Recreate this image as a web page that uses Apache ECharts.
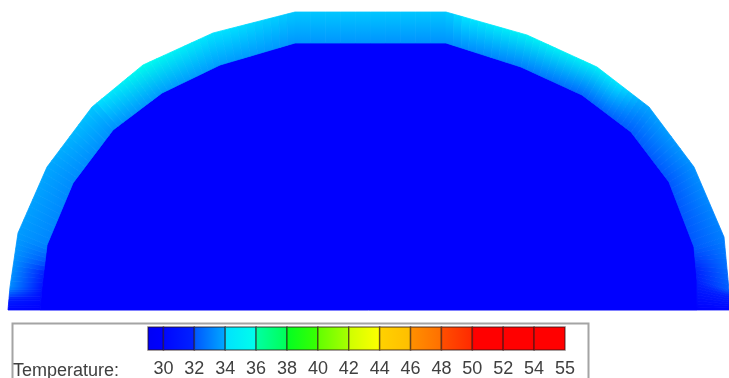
<!DOCTYPE html>
<html><head><meta charset="utf-8">
<script src="https://cdn.jsdelivr.net/npm/echarts@6/dist/echarts.min.js"></script>
<style>html,body{margin:0;padding:0;background:#fff}#c{width:729px;height:378px}</style>
</head><body><div id="c"></div>
<script>
// ---- Geometry of the dome section (x across, y height above base) ----
const outerX = [8, 10, 18, 47, 92, 143, 213, 295, 446, 527, 597, 649, 694, 724, 729, 729];
const outerY = [0, 23, 77, 143, 203, 245, 277, 298, 298, 275, 243, 203, 143, 73, 20, 0];
const outerT = [30.2, 33.2, 33.5, 33.7, 34.0, 35.6, 34.3, 34.0, 34.0, 35.0, 34.8, 33.6, 33.3, 33.0, 32.4, 30.2];
const innerX = [40, 42, 47, 73, 113, 162, 220, 295, 446, 521, 582, 631, 669, 694, 697, 697];
const innerY = [0, 23, 65, 127, 180, 217, 245, 267, 267, 243, 215, 178, 128, 63, 30, 0];
const innerT = [30.0, 31.0, 33.1, 33.2, 33.3, 33.5, 33.5, 33.4, 33.3, 33.0, 32.6, 32.4, 32.3, 32.3, 31.5, 30.0];
const coreT = 30;

// ---- Colour scale legend ----
const tickValues = [30, 32, 34, 36, 38, 40, 42, 44, 46, 48, 50, 52, 54, 55];
const tickLabels = ['30', '32', '34', '36', '38', '40', '42', '44', '46', '48', '50', '52', '54', '55'];
const underT = 29;
const legendTitle = 'Temperature:';

// ---- Colormap (style) ----
const cmapT = [29, 30, 31.75, 32.25, 33.75, 34.25, 35.75, 36.25, 37.75, 38.25, 39.75, 40.25, 41.75, 42.25, 43.75, 44.25, 45.75, 46.25, 47.75, 48.25, 49.75, 50, 55];
const cmapC = [[0,0,245],[0,0,255],[0,35,255],[0,85,255],[0,170,255],[0,225,255],[0,255,235],[0,255,165],[0,255,85],[0,255,35],[60,255,0],[95,255,0],[170,255,0],[205,255,0],[255,255,0],[255,210,0],[255,190,0],[255,145,0],[255,110,0],[255,80,0],[255,40,0],[255,0,0],[255,0,0]];
function cmap(t) {
  if (t <= cmapT[0]) return 'rgb(' + cmapC[0].join(',') + ')';
  for (let i = 1; i < cmapT.length; i++) {
    if (t <= cmapT[i]) {
      const f = (t - cmapT[i-1]) / (cmapT[i] - cmapT[i-1]);
      const c = cmapC[i-1].map((v, k) => Math.round(v + (cmapC[i][k] - v) * f));
      return 'rgb(' + c.join(',') + ')';
    }
  }
  return 'rgb(' + cmapC[cmapC.length-1].join(',') + ')';
}

const chart = echarts.init(document.getElementById('c'), null, {renderer: 'canvas'});

const bandData = outerX.slice(0, -1).map((_, i) => [outerX[i], outerY[i]]);
const cellData = tickValues.map((_, i) => [i]);
const SUB = 10; // shading subdivisions per element edge (rendering only)

function renderBand(params, api) {
  const i = params.dataIndex;
  const lerp = (a, b, f) => a + (b - a) * f;
  const children = [];
  for (let s = 0; s < SUB; s++) {
    const f0 = s / SUB, f1 = (s + 1) / SUB, fm = (s + 0.5) / SUB;
    const o1 = api.coord([lerp(outerX[i], outerX[i+1], f0), lerp(outerY[i], outerY[i+1], f0)]);
    const o2 = api.coord([lerp(outerX[i], outerX[i+1], f1), lerp(outerY[i], outerY[i+1], f1)]);
    const i1 = api.coord([lerp(innerX[i], innerX[i+1], f0), lerp(innerY[i], innerY[i+1], f0)]);
    const i2 = api.coord([lerp(innerX[i], innerX[i+1], f1), lerp(innerY[i], innerY[i+1], f1)]);
    const mo = [(o1[0]+o2[0])/2, (o1[1]+o2[1])/2];
    const mi = [(i1[0]+i2[0])/2, (i1[1]+i2[1])/2];
    const cOut = cmap(lerp(outerT[i], outerT[i+1], fm));
    const cIn = cmap(lerp(innerT[i], innerT[i+1], fm));
    const mk = () => new echarts.graphic.LinearGradient(mo[0], mo[1], mi[0], mi[1], [
      {offset: 0, color: cOut}, {offset: 1, color: cIn}], true);
    children.push({
      type: 'polygon',
      shape: {points: [o1, o2, i2, i1]},
      style: {fill: mk(), stroke: mk(), lineWidth: 0.8}
    });
  }
  return {type: 'group', children: children};
}

function renderCore(params, api) {
  const pts = innerX.map((x, i) => api.coord([x, innerY[i]]));
  return {type: 'polygon', shape: {points: pts}, style: {fill: cmap(coreT), stroke: cmap(coreT), lineWidth: 1}};
}

function renderCell(params, api) {
  const i = params.dataIndex;
  const lo = i === 0 ? underT : tickValues[i-1];
  const hi = tickValues[i];
  const xa = i === 0 ? -0.5 : i - 1;
  const xb = i;
  const p0 = api.coord([xa, 1]);
  const p1 = api.coord([xb, 0]);
  const w = p1[0] - p0[0], h = p1[1] - p0[1];
  const margin = i === 0 ? 0 : 0.25;
  return {
    type: 'rect',
    shape: {x: p0[0], y: p0[1], width: w, height: h},
    style: {
      fill: new echarts.graphic.LinearGradient(0, 0, 1, 0, [
        {offset: 0, color: cmap(lo + margin)}, {offset: 1, color: cmap(hi - margin)}]),
      stroke: 'rgba(40,20,20,0.55)', lineWidth: 1.5
    }
  };
}

const labelIdx = tickLabels.map((_, i) => i);

chart.setOption({
  animation: false,
  backgroundColor: '#ffffff',
  title: {
    text: legendTitle, left: 13, top: 362, padding: 0,
    textStyle: {fontFamily: 'Liberation Sans', fontSize: 18, fontWeight: 'normal', color: '#404040'}
  },
  grid: [
    {left: 0, right: 0, top: 0, bottom: 68},
    {left: 148, top: 327, width: 417, height: 26}
  ],
  xAxis: [
    {type: 'value', gridIndex: 0, min: 0, max: 729, show: false},
    {type: 'value', gridIndex: 1, min: -0.5, max: 13,
     axisLine: {show: false}, axisTick: {show: false}, splitLine: {show: false},
     axisLabel: {customValues: labelIdx, formatter: v => tickLabels[Math.round(v)] || '',
       margin: 10, fontFamily: 'Liberation Sans', fontSize: 18, color: '#404040'}}
  ],
  yAxis: [
    {type: 'value', gridIndex: 0, min: 0, max: 310, show: false},
    {type: 'value', gridIndex: 1, min: 0, max: 1, show: false}
  ],
  graphic: [{
    type: 'rect', left: 10, top: 321, silent: true,
    shape: {x: 0, y: 0, width: 576, height: 80},
    style: {fill: 'none', stroke: '#a4a4a4', lineWidth: 2}, z: 1
  }],
  series: [
    {type: 'custom', xAxisIndex: 0, yAxisIndex: 0, silent: true, data: [[0, 0]], renderItem: renderCore, z: 1},
    {type: 'custom', xAxisIndex: 0, yAxisIndex: 0, silent: true, data: bandData, renderItem: renderBand, z: 2},
    {type: 'custom', xAxisIndex: 1, yAxisIndex: 1, silent: true, data: cellData, renderItem: renderCell, z: 3}
  ]
});
</script></body></html>
